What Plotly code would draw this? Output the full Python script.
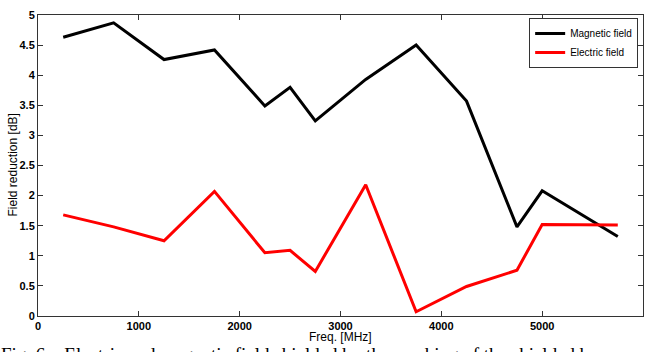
import plotly.graph_objects as go

freq = [250, 750, 1250, 1750, 2250, 2500, 2750, 3250, 3750, 4250, 4750, 5000, 5750]
magnetic = [4.63, 4.87, 4.26, 4.42, 3.49, 3.80, 3.24, 3.93, 4.50, 3.57, 1.48, 2.08, 1.32]
electric = [1.68, 1.48, 1.25, 2.07, 1.05, 1.09, 0.74, 2.18, 0.07, 0.49, 0.76, 1.52, 1.51]

x_ticks = [0, 1000, 2000, 3000, 4000, 5000, 6000]
y_ticks = [0, 0.5, 1, 1.5, 2, 2.5, 3, 3.5, 4, 4.5, 5]
y_tick_text = ["0", "0.5", "1", "1.5", "2", "2.5", "3", "3.5", "4", "4.5", "5"]

fig = go.Figure()
fig.add_trace(go.Scatter(x=freq, y=magnetic, mode="lines", name="Magnetic field",
                         line=dict(color="black", width=3)))
fig.add_trace(go.Scatter(x=freq, y=electric, mode="lines", name="Electric field",
                         line=dict(color="red", width=3)))

tickfont = dict(family="Liberation Sans, Arial", size=11, color="black", weight="bold")
fig.update_layout(
    width=655, height=352,
    margin=dict(l=38, r=12, t=9, b=36),
    paper_bgcolor="white", plot_bgcolor="white",
    showlegend=True,
    legend=dict(x=0.992, y=0.99, xanchor="right", yanchor="top",
                bgcolor="white", bordercolor="#333", borderwidth=1,
                font=dict(family="Liberation Sans, Arial", size=10, color="black"),
                tracegroupgap=0, itemwidth=30),
    xaxis=dict(range=[0, 6000], tickvals=x_ticks, ticks="inside", ticklen=5,
               tickcolor="#333", showline=True, linecolor="#333", linewidth=1,
               mirror="ticks", showgrid=False, zeroline=False, tickfont=tickfont),
    yaxis=dict(range=[0, 5], tickvals=y_ticks, ticktext=y_tick_text, ticks="inside", ticklen=5,
               tickcolor="#333", showline=True, linecolor="#333", linewidth=1,
               mirror="ticks", showgrid=False, zeroline=False, tickfont=tickfont),
)

titlefont = dict(family="Liberation Sans, Arial", size=12, color="black")
# x axis title
fig.add_annotation(text="Freq. [MHz]", xref="paper", yref="paper",
                   x=0.5, y=-(337 - 316) / 307, xanchor="center", yanchor="middle",
                   showarrow=False, font=titlefont, borderpad=0)
# y axis title
fig.add_annotation(text="Field reduction [dB]", xref="paper", yref="paper",
                   x=(12 - 38) / 605, y=0.5, xanchor="center", yanchor="middle",
                   textangle=-90, showarrow=False, font=titlefont)

# clipped figure caption below the chart
fig.add_annotation(text="Fig. 6.   Electric and magnetic field shielded by the meshing of the shielded box",
                   xref="paper", yref="paper", x=(0 - 38) / 605, y=-(344 - 316) / 307,
                   xanchor="left", yanchor="top", borderpad=0,
                   showarrow=False, align="left",
                   font=dict(family="Liberation Serif, Times New Roman", size=19, color="black"))

fig.write_html("out.html")
